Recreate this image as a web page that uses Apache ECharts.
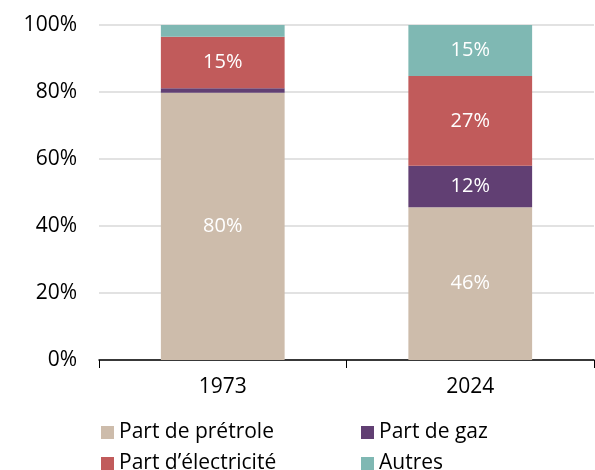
<!DOCTYPE html>
<html>
<head>
    <meta charset="utf-8">
    <title>Parts 1973 / 2024</title>
    <script src="https://cdn.jsdelivr.net/npm/echarts@6/dist/echarts.min.js"></script>
</head>
<body style="margin:0">
    <div id="main" style="width: 595px;height:470px;"></div>
    <script type="text/javascript">
        // données (en %)
        var annees = ['1973', '2024'];
        var petrole = [79.8, 45.6];
        var gaz = [1.3, 12.4];
        var electricite = [15.4, 26.8];
        var autres = [3.5, 15.2];

        var police = '"Open Sans", "Noto Sans", sans-serif';

        function serie(nom, data, couleur) {
            return {
                name: nom,
                type: 'bar',
                stack: 'total',
                barWidth: '50%',
                data: data,
                itemStyle: { color: couleur },
                label: {
                    show: true,
                    position: 'inside',
                    color: '#fff',
                    fontFamily: police,
                    fontSize: 20,
                    formatter: function (p) {
                        return p.value < 5 ? '' : Math.round(p.value) + '%';
                    }
                }
            };
        }

        function legende(x, noms) {
            return {
                left: x, top: 417, height: 60, orient: 'vertical', itemGap: 10,
                itemWidth: 13, itemHeight: 13, icon: 'rect',
                textStyle: { fontFamily: police, fontSize: 21, color: '#000' },
                data: noms
            };
        }

        var myChart = echarts.init(document.getElementById('main'));

        var option = {
            animation: false,
            grid: { left: 99, right: 1, top: 25, bottom: 110 },
            legend: [
                legende(96, ['Part de prétrole', 'Part d’électricité']),
                legende(356, ['Part de gaz', 'Autres'])
            ],
            xAxis: {
                type: 'category',
                data: annees,
                axisLine: { lineStyle: { color: '#000', width: 1.5 } },
                axisTick: { show: true, length: 8, lineStyle: { color: '#000' } },
                axisLabel: { color: '#000', fontFamily: police, fontSize: 21, margin: 17 }
            },
            yAxis: {
                type: 'value',
                min: 0, max: 100, interval: 20,
                axisLabel: {
                    color: '#000', fontFamily: police, fontSize: 21, margin: 22,
                    formatter: '{value}%'
                },
                splitLine: { lineStyle: { color: '#d9d9d9', width: 1.5 } }
            },
            series: [
                serie('Part de prétrole', petrole, '#cdbcab'),
                serie('Part de gaz', gaz, '#613f73'),
                serie('Part d’électricité', electricite, '#c15b5b'),
                serie('Autres', autres, '#7fb8b3')
            ]
        };

        myChart.setOption(option);
    </script>
</body>
</html>
